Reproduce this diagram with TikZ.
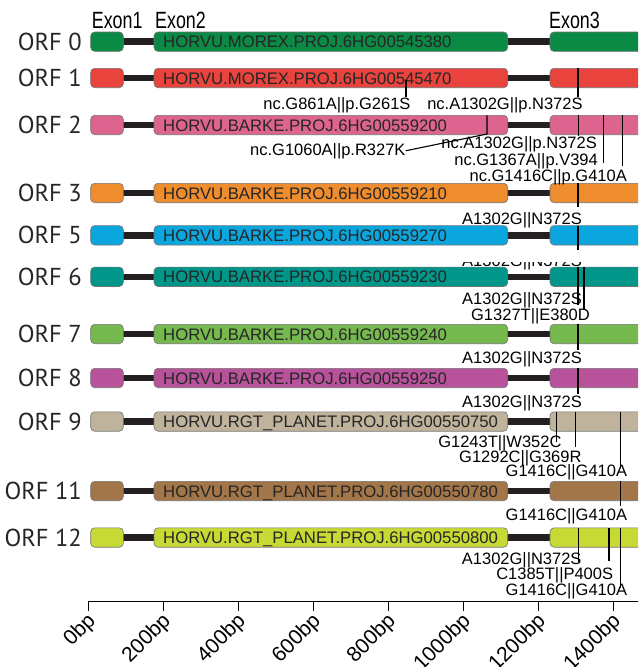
\documentclass[tikz,border=0pt]{standalone}
\usepackage{fontspec}
\setmainfont{Liberation Sans}
\newfontfamily\orffont{PT Sans}
\definecolor{introncol}{HTML}{231F20}
\definecolor{cA}{HTML}{0B8A46}
\definecolor{cB}{HTML}{E8433D}
\definecolor{cC}{HTML}{DE6490}
\definecolor{cD}{HTML}{EE8C2E}
\definecolor{cE}{HTML}{0CA6DF}
\definecolor{cF}{HTML}{00978A}
\definecolor{cG}{HTML}{76B94F}
\definecolor{cH}{HTML}{B8529B}
\definecolor{cI}{HTML}{BFB49B}
\definecolor{cJ}{HTML}{A27649}
\definecolor{cK}{HTML}{C6D935}
\begin{document}
\begin{tikzpicture}[x=1pt,y=-1pt,
 exonbox/.style={draw=black!55, line width=0.6pt, rounded corners=4pt},
 intronline/.style={line width=6.5pt, color=introncol},
 orflabel/.style={font=\orffont\fontsize{24.5}{26}\selectfont, anchor=east, inner sep=0pt, text=black!85},
 genetext/.style={font=\fontsize{16.7}{18}\selectfont, anchor=base west, inner sep=0pt, text=black!85},
 mutlabel/.style={font=\fontsize{16.5}{18}\selectfont, anchor=base east, inner sep=0pt},
 tickline/.style={line width=1.1pt, black},
 exonlabel/.style={font=\fontsize{23.5}{25}\selectfont, anchor=base west, inner sep=0pt},
 axlabel/.style={font=\fontsize{21}{23}\selectfont, rotate=45, anchor=east, inner sep=0pt}]
\clip (0,0) rectangle (638,667);
\fill[white] (0,0) rectangle (638,667);

% exon headers
\node[exonlabel] (ex1) at (91.7,28.3) {\scalebox{0.76}[1]{Exon1}};
\node[exonlabel] (ex2) at (155,28.3) {\scalebox{0.76}[1]{Exon2}};
\node[exonlabel] (ex3) at (549,28.3) {\scalebox{0.76}[1]{Exon3}};

% rows
\foreach \y/\c/\n/\g in {
 41.7/cA/0/HORVU.MOREX.PROJ.6HG00545380,
 78/cB/1/HORVU.MOREX.PROJ.6HG00545470,
 125/cC/2/HORVU.BARKE.PROJ.6HG00559200,
 193/cD/3/HORVU.BARKE.PROJ.6HG00559210,
 235.3/cE/5/HORVU.BARKE.PROJ.6HG00559270,
 276.8/cF/6/HORVU.BARKE.PROJ.6HG00559230,
 334/cG/7/HORVU.BARKE.PROJ.6HG00559240,
 378/cH/8/HORVU.BARKE.PROJ.6HG00559250,
 421.5/cI/9/HORVU.RGT\_PLANET.PROJ.6HG00550750,
 491/cJ/11/HORVU.RGT\_PLANET.PROJ.6HG00550780,
 537.5/cK/12/HORVU.RGT\_PLANET.PROJ.6HG00550800}{
 \draw[intronline] (122,\y) -- (155,\y);
 \draw[intronline] (506,\y) -- (551,\y);
 \draw[exonbox, fill=\c] (90.7,\y-9.7) rectangle (123.3,\y+9.7);
 \draw[exonbox, fill=\c] (154,\y-9.7) rectangle (507.7,\y+9.7);
 \draw[exonbox, fill=\c] (550,\y-9.7) rectangle (660,\y+9.7);
 \node[orflabel] (orf\n) at (82,\y) {ORF \n};
 \node[genetext] (gene\n) at (163,\y+6) {\g};
}

% ORF 1
\draw[tickline] (406,80) -- (406,97);
\draw[tickline] (578,68.3) -- (578,97);
\node[mutlabel] (m1a) at (410.7,109) {nc.G861A||p.G261S};
\node[mutlabel] (m1b) at (582.8,109) {nc.A1302G||p.N372S};

% ORF 2
\node[mutlabel] (m2a) at (405.7,155) {nc.G1060A||p.R327K};
\draw[tickline] (487,115.3) -- (487,134) -- (m2a.east);
\draw[tickline] (578.5,115.3) -- (578.5,136);
\draw[tickline] (603.3,115.3) -- (603.3,163);
\draw[tickline] (622.7,115.3) -- (622.7,166);
\node[mutlabel] (m2b) at (597,148.7) {nc.A1302G||p.N372S};
\node[mutlabel] (m2c) at (598,165) {nc.G1367A||p.V394};
\node[mutlabel] (m2d) at (627,181) {nc.G1416C||p.G410A};

% ORF 3
\draw[tickline] (578,183.3) -- (578,207);
\node[mutlabel] (m3a) at (582,224) {A1302G||N372S};

% ORF 5
\draw[tickline] (578,225.6) -- (578,250);
\begin{scope}
\clip (440,262.5) rectangle (600,272);
\node[mutlabel] (m5a) at (582,266.5) {A1302G||N372S};
\end{scope}

% ORF 6
\draw[tickline] (578,267.1) -- (578,305);
\draw[tickline] (584,267.1) -- (584,310);
\node[mutlabel] (m6a) at (582,304.3) {A1302G||N372S};
\node[mutlabel] (m6b) at (590,320) {G1327T||E380D};

% ORF 7
\draw[tickline] (578,324.3) -- (578,350);
\node[mutlabel] (m7a) at (582,363) {A1302G||N372S};

% ORF 8
\draw[tickline] (578,368.3) -- (578,394);
\node[mutlabel] (m8a) at (582,407.7) {A1302G||N372S};

% ORF 9
\draw[tickline] (556.7,411.8) -- (556.7,442);
\draw[tickline] (575.7,411.8) -- (575.7,447);
\draw[tickline] (620.7,411.8) -- (620.7,468);
\node[mutlabel] (m9a) at (561.7,447) {G1243T||W352C};
\node[mutlabel] (m9b) at (581.7,462) {G1292C||G369R};
\node[mutlabel] (m9c) at (627.3,476.7) {G1416C||G410A};

% ORF 11
\draw[tickline] (620.7,481.3) -- (620.7,506);
\node[mutlabel] (m11a) at (627.3,520) {G1416C||G410A};

% ORF 12
\draw[tickline] (578.3,527.8) -- (578.3,562);
\draw[tickline] (609,527.8) -- (609,561);
\draw[tickline] (620.7,527.8) -- (620.7,588);
\node[mutlabel] (m12a) at (581.7,564.3) {A1302G||N372S};
\node[mutlabel] (m12b) at (613.3,579.3) {C1385T||P400S};
\node[mutlabel] (m12c) at (627.3,595.3) {G1416C||G410A};

% axis
\coordinate (axstart) at (88.7,601);
\coordinate (axend) at (640,601);
\draw[line width=0.9pt] (axstart) -- (axend);
\foreach \i in {0,...,7}{
 \pgfmathsetmacro{\xx}{88.7+75*\i}
 \pgfmathtruncatemacro{\bp}{200*\i}
 \draw[line width=0.9pt] (\xx,601) -- (\xx,611) coordinate (tk\i);
 \node[axlabel] (ax\i) at (\xx+4,618) {\bp bp};
}
\end{tikzpicture}
\end{document}
